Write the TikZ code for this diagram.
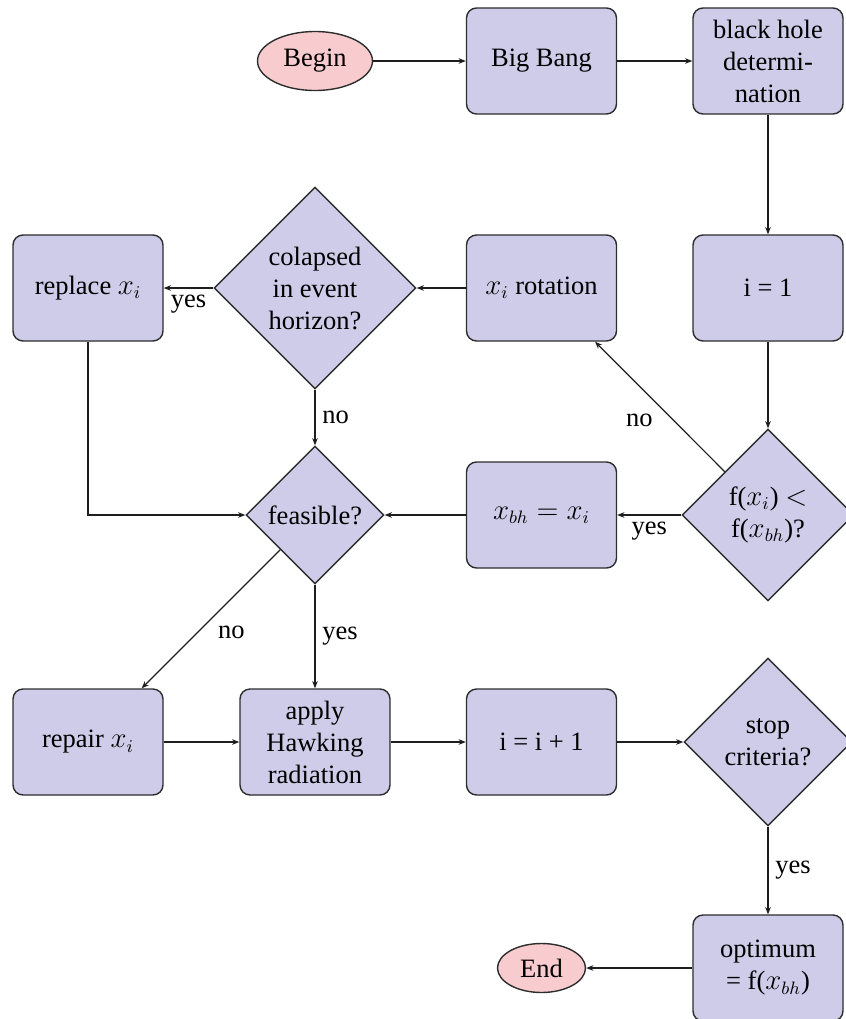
\documentclass[tikz,border=0pt]{standalone}
\usepackage{fontspec}
\setmainfont{Liberation Serif}
\usetikzlibrary{shapes.geometric,arrows.meta}
\definecolor{boxfill}{RGB}{206,204,232}
\definecolor{termfill}{RGB}{248,204,206}
\definecolor{boxdraw}{RGB}{45,45,45}
\definecolor{edgecol}{RGB}{30,30,30}
\begin{document}
\begin{tikzpicture}[x=0.5pt,y=-0.5pt,
  font=\fontsize{13.25}{16}\selectfont,
  box/.style={rectangle, rounded corners=5pt, draw=boxdraw, fill=boxfill,
    minimum width=75pt, minimum height=53pt, align=center, line width=0.7pt},
  dec/.style={diamond, aspect=1, draw=boxdraw, fill=boxfill, inner sep=0pt,
    align=center, line width=0.7pt},
  term/.style={ellipse, draw=boxdraw, fill=termfill, align=center, line width=0.7pt},
  arr/.style={-{Stealth[length=3.6pt,width=2.8pt]}, line width=0.6pt, draw=edgecol}]
\useasboundingbox (0,0) rectangle (846,1019);
\clip (0,0) rectangle (846,1019);
\node[term, minimum width=57.5pt, minimum height=29.5pt] (begin) at (315,61) {Begin};
\node[box] (bang) at (541.5,61) {Big Bang};
\node[box] (bhd) at (768,61) {black hole\\determi-\\nation};
\node[box] (i1) at (768,288) {i = 1};
\node[box] (rot) at (541.5,288) {$x_i$ rotation};
\node[dec, minimum size=101pt] (col) at (315,288) {colapsed\\in event\\horizon?};
\node[box] (rep) at (88,288) {replace $x_i$};
\node[dec, minimum size=86pt] (fcmp) at (768,515) {f($x_i$) $<$\\f($x_{bh}$)?};
\node[box] (upd) at (541.5,515) {$x_{bh} = x_i$};
\node[dec, minimum size=69pt] (feas) at (315,515) {feasible?};
\node[box] (repair) at (88,742) {repair $x_i$};
\node[box] (hawk) at (315,742) {apply\\Hawking\\radiation};
\node[box] (inc) at (541.5,742) {i = i + 1};
\node[dec, minimum size=84pt] (stop) at (768,742) {stop\\criteria?};
\node[box] (opt) at (768,968) {optimum\\= f($x_{bh}$)};
\node[term, minimum width=44pt, minimum height=24.5pt] (end) at (541.5,968) {End};
\draw[arr] (begin) -- (bang);
\draw[arr] (bang) -- (bhd);
\draw[arr] (bhd) -- (i1);
\draw[arr] (i1) -- (fcmp);
\draw[arr] (fcmp) -- node[below left]{no} (rot);
\draw[arr] (fcmp) -- node[below]{yes} (upd);
\draw[arr] (upd) -- (feas);
\draw[arr] (rot) -- (col);
\draw[arr] (col) -- node[below]{yes} (rep);
\draw[arr] (col) -- node[right]{no} (feas);
\draw[arr] (rep) |- (feas);
\draw[arr] (feas) -- node[below right]{no} (repair);
\draw[arr] (feas) -- node[right]{yes} (hawk);
\draw[arr] (repair) -- (hawk);
\draw[arr] (hawk) -- (inc);
\draw[arr] (inc) -- (stop);
\draw[arr] (stop) -- node[right]{yes} (opt);
\draw[arr] (opt) -- (end);
\end{tikzpicture}
\end{document}
